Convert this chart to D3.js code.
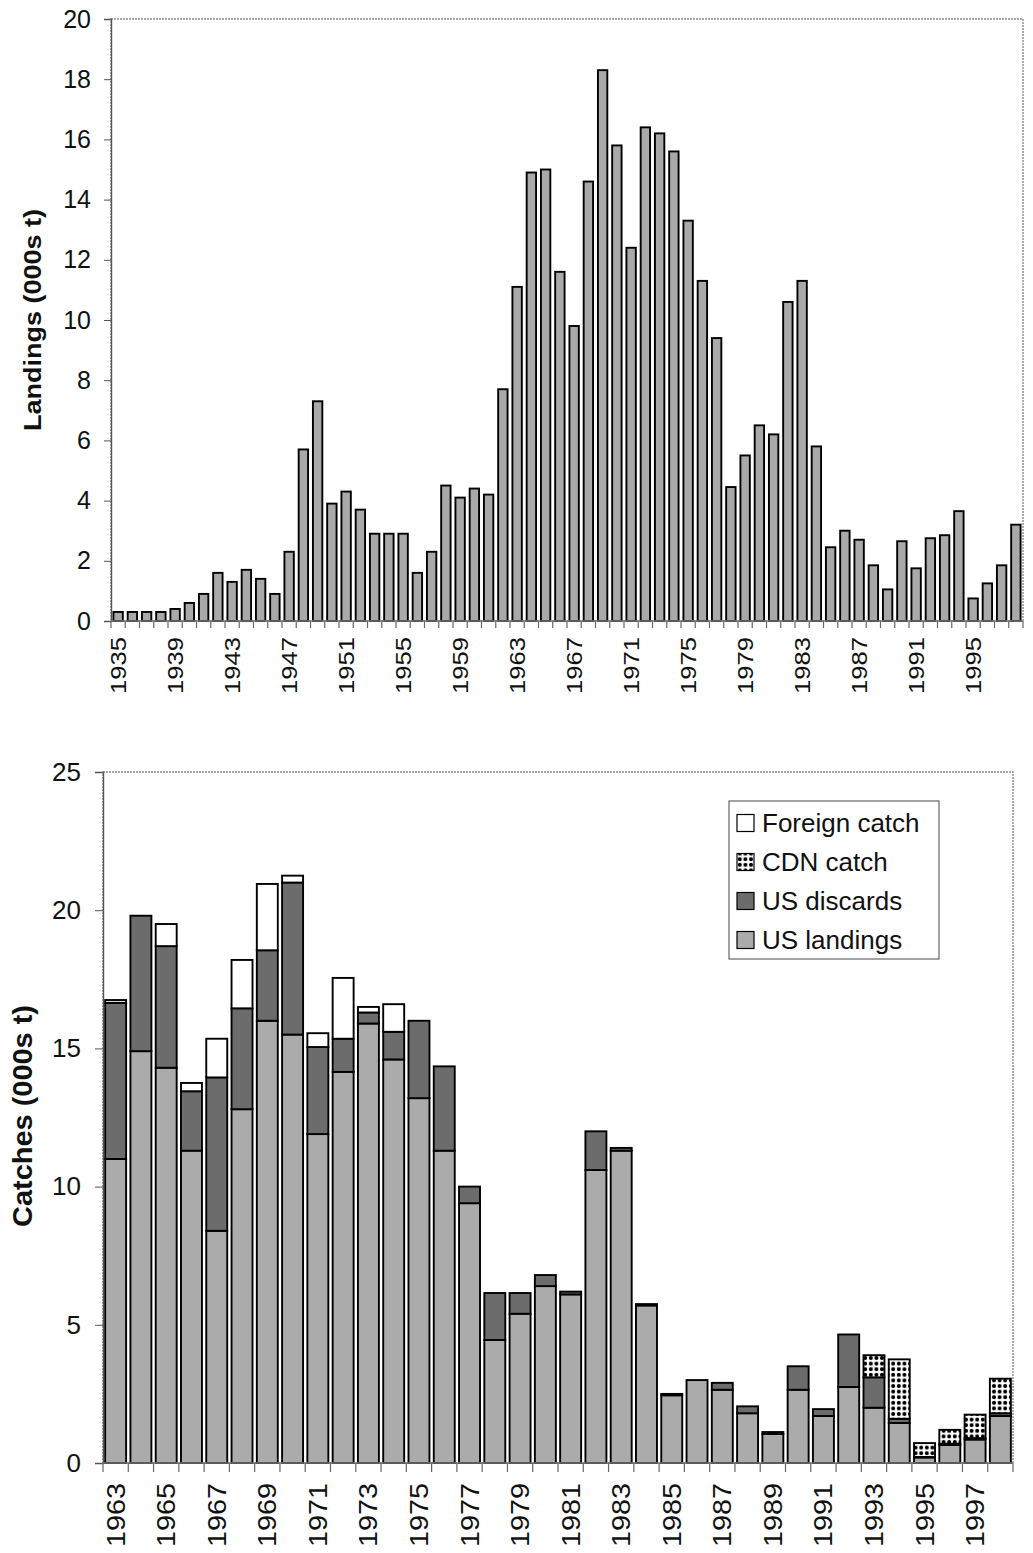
<!DOCTYPE html>
<html>
<head>
<meta charset="utf-8">
<script src="https://cdn.jsdelivr.net/npm/d3@7"></script>
<style>
  html, body { margin: 0; padding: 0; background: #fff; }
  svg { display: block; }
  text { font-family: "Liberation Sans", Arial, Helvetica, sans-serif; fill: #111; }
</style>
</head>
<body>
<svg id="chart" width="1033" height="1553"></svg>
<script>
// ---- Landings by year (000s t) ----
const landYears = d3.range(1935, 1999);
const landValues = [
  0.3, 0.3, 0.3, 0.3, 0.4, 0.6, 0.9, 1.6, 1.3, 1.7,
  1.4, 0.9, 2.3, 5.7, 7.3, 3.9, 4.3, 3.7, 2.9, 2.9,
  2.9, 1.6, 2.3, 4.5, 4.1, 4.4, 4.2, 7.7, 11.1, 14.9,
  15.0, 11.6, 9.8, 14.6, 18.3, 15.8, 12.4, 16.4, 16.2, 15.6,
  13.3, 11.3, 9.4, 4.45, 5.5, 6.5, 6.2, 10.6, 11.3, 5.8,
  2.45, 3.0, 2.7, 1.85, 1.05, 2.65, 1.75, 2.75, 2.85, 3.65,
  0.75, 1.25, 1.85, 3.2
];
const landTickYears = d3.range(1935, 1999, 4);
const landYTicks = d3.range(0, 21, 2);

// ---- Catches by component (000s t) ----
const catchYears = d3.range(1963, 1999);
const usLandings = [
  11.0, 14.9, 14.3, 11.3, 8.4, 12.8, 16.0, 15.5, 11.9, 14.15,
  15.9, 14.6, 13.2, 11.3, 9.4, 4.45, 5.4, 6.4, 6.1, 10.6,
  11.3, 5.7, 2.45, 3.0, 2.65, 1.8, 1.05, 2.65, 1.7, 2.75,
  2.0, 1.45, 0.2, 0.65, 0.85, 1.7
];
const usDiscards = [
  5.65, 4.9, 4.4, 2.15, 5.55, 3.65, 2.55, 5.5, 3.15, 1.2,
  0.4, 1.0, 2.8, 3.05, 0.6, 1.7, 0.75, 0.4, 0.1, 1.4,
  0.1, 0.05, 0.05, 0.0, 0.25, 0.25, 0.07, 0.85, 0.25, 1.9,
  1.1, 0.15, 0.02, 0.05, 0.05, 0.1
];
const cdnCatch = [
  0, 0, 0, 0, 0, 0, 0, 0, 0, 0,
  0, 0, 0, 0, 0, 0, 0, 0, 0, 0,
  0, 0, 0, 0, 0, 0, 0, 0, 0, 0,
  0.8, 2.15, 0.5, 0.5, 0.85, 1.25
];
const foreignCatch = [
  0.1, 0, 0.8, 0.3, 1.4, 1.75, 2.4, 0.25, 0.5, 2.2,
  0.2, 1.0, 0, 0, 0, 0, 0, 0, 0, 0,
  0, 0, 0, 0, 0, 0, 0, 0, 0, 0,
  0, 0, 0, 0, 0, 0
];
const catchTickYears = d3.range(1963, 1999, 2);
const catchYTicks = [0, 5, 10, 15, 20, 25];
const seriesKeys = ["landings", "discards", "cdn", "foreign"];
const seriesNames = { foreign: "Foreign catch", cdn: "CDN catch", discards: "US discards", landings: "US landings" };

const svg = d3.select("#chart");
const defs = svg.append("defs");

// dotted fill for the Canadian catch
const dots = defs.append("pattern")
  .attr("id", "cdnDots").attr("patternUnits", "userSpaceOnUse")
  .attr("width", 5.6).attr("height", 5.6);
dots.append("rect").attr("width", 5.6).attr("height", 5.6).attr("fill", "#fff");
dots.append("rect").attr("x", 0.9).attr("y", 1.6).attr("width", 3.8).attr("height", 2.4).attr("fill", "#000");
dots.append("rect").attr("x", 1.6).attr("y", 0.9).attr("width", 2.4).attr("height", 3.8).attr("fill", "#000");

const fills = { landings: "#ababab", discards: "#6c6c6c", cdn: "url(#cdnDots)", foreign: "#ffffff" };

function frame(g, x0, x1, y0, y1) {
  g.append("rect")
    .attr("x", x0).attr("y", y0).attr("width", x1 - x0).attr("height", y1 - y0)
    .attr("fill", "none").attr("stroke", "#8a8a8a").attr("stroke-width", 1.4)
    .attr("stroke-dasharray", "2,1");
}

// ================= Landings chart =================
{
  const L = 111, R = 1023, T = 19, B = 621;
  const g = svg.append("g");
  const x = d3.scaleBand().domain(landYears).range([L, R]).padding(0);
  const y = d3.scaleLinear().domain([0, 20]).range([B, T]);
  frame(g, L, R, T, B);

  const bw = x.bandwidth() * 0.66;
  g.selectAll("rect.bar").data(landYears).join("rect")
    .attr("class", "bar")
    .attr("x", d => x(d) + (x.bandwidth() - bw) / 2)
    .attr("width", bw)
    .attr("y", (d, i) => y(landValues[i]))
    .attr("height", (d, i) => y(0) - y(landValues[i]))
    .attr("fill", "#a9a9a9").attr("stroke", "#000").attr("stroke-width", 1.9);

  // y axis
  const ya = g.append("g").attr("transform", `translate(${L},0)`)
    .call(d3.axisLeft(y).tickValues(landYTicks).tickSize(7).tickPadding(13));
  ya.select(".domain").attr("stroke", "#555").attr("stroke-width", 1.4);
  ya.selectAll(".tick line").attr("stroke", "#555");
  ya.selectAll(".tick text").style("font-size", "25px").attr("fill", "#111");

  // x axis: tick marks on category boundaries, labels every fourth year
  const xa = g.append("g").attr("transform", `translate(0,${B})`);
  xa.append("line").attr("x1", L).attr("x2", R).attr("stroke", "#777").attr("stroke-width", 1.4);
  xa.selectAll("line.tk").data(landYears.concat([null])).join("line")
    .attr("class", "tk")
    .attr("x1", d => d === null ? R : x(d)).attr("x2", d => d === null ? R : x(d))
    .attr("y1", 0).attr("y2", 7).attr("stroke", "#666").attr("stroke-width", 1.2);
  const xl = xa.append("g").call(d3.axisBottom(x).tickValues(landTickYears).tickSize(0));
  xl.select(".domain").remove();
  xl.selectAll(".tick text")
    .attr("transform", "rotate(-90)").attr("text-anchor", "end")
    .attr("x", -16).attr("y", 0).attr("dy", "0.36em")
    .attr("textLength", 57).attr("lengthAdjust", "spacingAndGlyphs")
    .style("font-size", "22px").attr("fill", "#111");

  g.append("text")
    .attr("transform", "translate(41,320) rotate(-90)")
    .attr("text-anchor", "middle")
    .attr("textLength", 222).attr("lengthAdjust", "spacingAndGlyphs")
    .style("font-size", "23px").style("font-weight", "bold")
    .text("Landings (000s t)");
}

// ================= Catches chart =================
{
  const L = 103, R = 1013, T = 772, B = 1463;
  const g = svg.append("g");
  const x = d3.scaleBand().domain(catchYears).range([L, R]).padding(0);
  const y = d3.scaleLinear().domain([0, 25]).range([B, T]);
  frame(g, L, R, T, B);

  const rows = catchYears.map((yr, i) => ({
    year: yr, landings: usLandings[i], discards: usDiscards[i], cdn: cdnCatch[i], foreign: foreignCatch[i]
  }));
  const stacked = d3.stack().keys(seriesKeys)(rows);

  const bw = x.bandwidth() * 0.83;
  g.selectAll("g.layer").data(stacked).join("g")
    .attr("class", "layer")
    .attr("fill", s => fills[s.key])
    .selectAll("rect").data(s => s.filter(d => d[1] - d[0] > 0)).join("rect")
    .attr("x", d => x(d.data.year) + (x.bandwidth() - bw) / 2)
    .attr("width", bw)
    .attr("y", d => y(d[1]))
    .attr("height", d => y(d[0]) - y(d[1]))
    .attr("stroke", "#000").attr("stroke-width", 1.9);

  const ya = g.append("g").attr("transform", `translate(${L},0)`)
    .call(d3.axisLeft(y).tickValues(catchYTicks).tickSize(8).tickPadding(14));
  ya.select(".domain").attr("stroke", "#555").attr("stroke-width", 1.4);
  ya.selectAll(".tick line").attr("stroke", "#555");
  ya.selectAll(".tick text").style("font-size", "26px").attr("fill", "#111");

  const xa = g.append("g").attr("transform", `translate(0,${B})`);
  xa.append("line").attr("x1", L).attr("x2", R).attr("stroke", "#777").attr("stroke-width", 1.4);
  xa.selectAll("line.tk").data(catchYears.concat([null])).join("line")
    .attr("class", "tk")
    .attr("x1", d => d === null ? R : x(d)).attr("x2", d => d === null ? R : x(d))
    .attr("y1", 0).attr("y2", 9).attr("stroke", "#666").attr("stroke-width", 1.2);
  const xl = xa.append("g").call(d3.axisBottom(x).tickValues(catchTickYears).tickSize(0));
  xl.select(".domain").remove();
  xl.selectAll(".tick text")
    .attr("transform", "rotate(-90)").attr("text-anchor", "end")
    .attr("x", -20).attr("y", 0).attr("dy", "0.36em")
    .attr("textLength", 64).attr("lengthAdjust", "spacingAndGlyphs")
    .style("font-size", "25px").attr("fill", "#111");

  g.append("text")
    .attr("transform", "translate(32,1116) rotate(-90)")
    .attr("text-anchor", "middle")
    .attr("textLength", 222).attr("lengthAdjust", "spacingAndGlyphs")
    .style("font-size", "27px").style("font-weight", "bold")
    .text("Catches (000s t)");

  // legend
  const lg = g.append("g");
  lg.append("rect").attr("x", 729).attr("y", 801).attr("width", 210).attr("height", 158)
    .attr("fill", "#fff").attr("stroke", "#666").attr("stroke-width", 1.2);
  const order = ["foreign", "cdn", "discards", "landings"];
  const item = lg.selectAll("g.item").data(order).join("g")
    .attr("class", "item")
    .attr("transform", (d, i) => `translate(737,${823 + i * 39})`);
  item.append("rect").attr("x", 0).attr("y", -8.5).attr("width", 17).attr("height", 17)
    .attr("fill", d => fills[d]).attr("stroke", "#000").attr("stroke-width", 1.2);
  item.append("text").attr("x", 25).attr("y", 0).attr("dy", "0.36em")
    .style("font-size", "26px").text(d => seriesNames[d]);
}
</script>
</body>
</html>
